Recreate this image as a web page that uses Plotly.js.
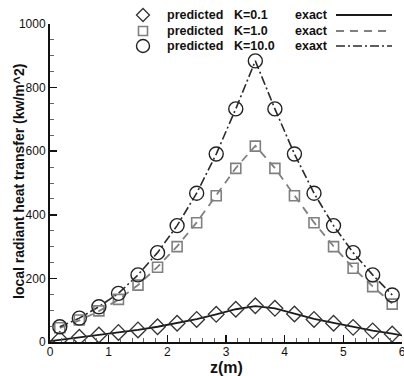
<!DOCTYPE html>
<html>
<head>
<meta charset="utf-8">
<script src="https://cdn.plot.ly/plotly-3.0.1.min.js"></script>
<style>html,body{margin:0;padding:0;background:#fff;}#chart{width:404px;height:376px;}</style>
</head>
<body>
<div id="chart"></div>
<script>
// ---- data ----
var zPred = [0.1667, 0.5, 0.8333, 1.1667, 1.5, 1.8333, 2.1667, 2.5, 2.8333, 3.1667, 3.5, 3.8333, 4.1667, 4.5, 4.8333, 5.1667, 5.5, 5.8333];
var predK01  = [8, 15, 22, 30, 38, 48, 59, 71, 87, 103, 114, 106, 88, 71, 59, 46, 35, 25];
var predK1   = [45, 69, 98, 134, 179, 235, 300, 375, 460, 546, 616, 546, 460, 375, 300, 232, 174, 119];
var predK10  = [48, 75, 111, 153, 211, 281, 366, 468, 591, 733, 884, 733, 591, 468, 366, 281, 211, 148];

var zExact01 = [0, 0.1667, 0.5, 0.8333, 1.1667, 1.5, 1.8333, 2.1667, 2.5, 2.8333, 3.1667, 3.5, 3.8333, 4.1667, 4.5, 4.8333, 5.1667, 5.5, 5.8333, 6];
var exactK01 = [3, 7, 14, 21, 29, 38, 48, 59, 72, 87, 103, 113, 106, 89, 73, 60, 47, 36, 26, 21];
var zExact   = [0.1667, 0.5, 0.8333, 1.1667, 1.5, 1.8333, 2.1667, 2.5, 2.8333, 3.1667, 3.5, 3.8333, 4.1667, 4.5, 4.8333, 5.1667, 5.5, 5.8333];
var exactK1  = [44, 68, 97, 133, 179, 236, 301, 376, 461, 547, 617, 547, 461, 376, 301, 233, 175, 121];
var exactK10 = [48, 75, 111, 153, 211, 281, 366, 468, 591, 733, 884, 733, 591, 468, 366, 281, 211, 148];

var xTickVals = [0, 1, 2, 3, 4, 5, 6];
var yTickVals = [0, 200, 400, 600, 800, 1000];

var xTitle = "z(m)";
var yTitle = "local radiant heat transfer (kw/m^2)";
var legendLabels = ["predicted", "predicted", "predicted"];
var legendK = ["K=0.1", "K=1.0", "K=10.0"];
var legendExact = ["exact", "exact", "exaxt"];

// ---- styles ----
var FONT = "Liberation Sans, Arial, Helvetica, sans-serif";
var cBlack = "#1a1a1a", cGray = "#808080";
var dashK1 = "8px,6px";
var dashK10 = "9px,3px,2px,3px";

var traces = [
  {x: zExact01, y: exactK01, mode: "lines", line: {color: cBlack, width: 1.8}, hoverinfo: "skip"},
  {x: zExact, y: exactK1, mode: "lines", line: {color: cGray, width: 1.8, dash: dashK1}, hoverinfo: "skip"},
  {x: zExact, y: exactK10, mode: "lines", line: {color: "#2a2a2a", width: 1.6, dash: dashK10}, hoverinfo: "skip"},
  {x: zPred, y: predK01, mode: "markers", marker: {symbol: "diamond-open", size: 12, color: "#333", line: {width: 1.3, color: "#333"}}},
  {x: zPred, y: predK1, mode: "markers", marker: {symbol: "square-open", size: 10, color: cGray, line: {width: 1.6, color: cGray}}},
  {x: zPred, y: predK10, mode: "markers", marker: {symbol: "circle-open", size: 14, color: "#222", line: {width: 1.4, color: "#222"}}}
];

// legend geometry in pixels -> paper
var L = 50, R = 402, T = 24, B = 342;
function px(p){ return (p - L) / (R - L); }
function py(p){ return (B - p) / (B - T); }
var rowY = [15, 31, 46];

var annotations = [];
var shapes = [];
for (var i = 0; i < 3; i++) {
  annotations.push({xref: "paper", yref: "paper", x: px(165), y: py(rowY[i]), xanchor: "left", yanchor: "middle", text: legendLabels[i], showarrow: false, font: {family: FONT, size: 12.5, color: "#111", weight: "bold"}});
  annotations.push({xref: "paper", yref: "paper", x: px(232), y: py(rowY[i]), xanchor: "left", yanchor: "middle", text: legendK[i], showarrow: false, font: {family: FONT, size: 12.5, color: "#111", weight: "bold"}});
  annotations.push({xref: "paper", yref: "paper", x: px(293), y: py(rowY[i]), xanchor: "left", yanchor: "middle", text: legendExact[i], showarrow: false, font: {family: FONT, size: 12.5, color: "#111", weight: "bold"}});
}
// axis titles
annotations.push({xref: "paper", yref: "paper", x: px(226), y: py(377), xanchor: "center", yanchor: "bottom", borderpad: 0, text: xTitle, showarrow: false, font: {family: FONT, size: 16, color: "#111", weight: "bold"}});
annotations.push({xref: "paper", yref: "paper", x: px(19), y: py(182), xanchor: "center", yanchor: "middle", textangle: -90, text: yTitle, showarrow: false, font: {family: FONT, size: 14, color: "#111", weight: "bold"}});

// legend line samples
shapes.push({type: "line", xref: "paper", yref: "paper", x0: px(336), x1: px(392), y0: py(rowY[0]), y1: py(rowY[0]), line: {color: cBlack, width: 1.8}});
shapes.push({type: "line", xref: "paper", yref: "paper", x0: px(336), x1: px(392), y0: py(rowY[1]), y1: py(rowY[1]), line: {color: cGray, width: 1.8, dash: dashK1}});
shapes.push({type: "line", xref: "paper", yref: "paper", x0: px(336), x1: px(392), y0: py(rowY[2]), y1: py(rowY[2]), line: {color: "#2a2a2a", width: 1.6, dash: dashK10}});
// legend marker symbols
shapes.push({type: "path", xref: "paper", yref: "paper", xsizemode: "pixel", ysizemode: "pixel", xanchor: px(143), yanchor: py(rowY[0]), path: "M -6.5 0 L 0 6.5 L 6.5 0 L 0 -6.5 Z", line: {color: "#333", width: 1.3}});
shapes.push({type: "rect", xref: "paper", yref: "paper", xsizemode: "pixel", ysizemode: "pixel", xanchor: px(143), yanchor: py(rowY[1]), x0: -4.5, x1: 4.5, y0: -4.5, y1: 4.5, line: {color: cGray, width: 1.6}});
shapes.push({type: "circle", xref: "paper", yref: "paper", xsizemode: "pixel", ysizemode: "pixel", xanchor: px(143), yanchor: py(rowY[2]), x0: -6.5, x1: 6.5, y0: -6.5, y1: 6.5, line: {color: "#222", width: 1.4}});

var layout = {
  width: 404, height: 376,
  margin: {l: 50, r: 2, t: 24, b: 34, pad: 0},
  paper_bgcolor: "#fff", plot_bgcolor: "#fff",
  showlegend: false,
  font: {family: FONT, size: 12, color: "#111"},
  xaxis: {
    range: [0, 6], tickvals: xTickVals, ticktext: xTickVals.map(String),
    showgrid: false, zeroline: false, showline: true, linecolor: "#111", linewidth: 2,
    ticks: "inside", ticklen: 7, tickwidth: 1.5, tickcolor: "#111",
    minor: {dtick: 0.2, ticks: "inside", ticklen: 4, tickwidth: 1, tickcolor: "#666", showgrid: false},
    tickfont: {family: FONT, size: 12, color: "#111"},
    ticklabeloverflow: "allow",
    ticklabelstandoff: -2,
    fixedrange: true
  },
  yaxis: {
    range: [0, 1000], tickvals: yTickVals, ticktext: yTickVals.map(String),
    showgrid: false, zeroline: false, showline: true, linecolor: "#111", linewidth: 2,
    ticks: "inside", ticklen: 7, tickwidth: 1.5, tickcolor: "#111",
    minor: {dtick: 50, ticks: "inside", ticklen: 4, tickwidth: 1, tickcolor: "#666", showgrid: false},
    tickfont: {family: FONT, size: 12, color: "#111"},
    ticklabeloverflow: "allow",
    fixedrange: true
  },
  annotations: annotations,
  shapes: shapes
};

Plotly.newPlot("chart", traces, layout, {displayModeBar: false, staticPlot: true});
</script>
</body>
</html>
